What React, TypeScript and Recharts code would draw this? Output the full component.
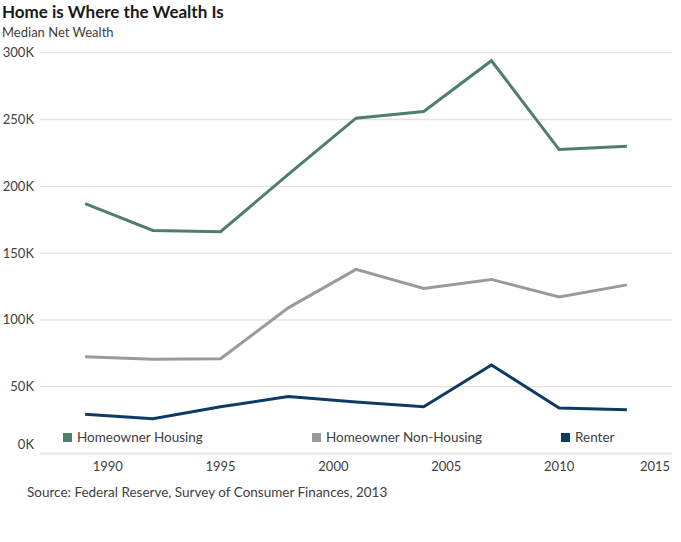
import { LineChart, Line, XAxis, YAxis, CartesianGrid, Legend } from 'recharts'

const years = [1989, 1992, 1995, 1998, 2001, 2004, 2007, 2010, 2013]
const homeownerHousing = [187, 167, 166, 209, 251, 256, 294, 227.5, 230]
const homeownerNonHousing = [72.5, 70.5, 71, 109, 137.8, 123.6, 130.3, 117.2, 126.2]
const renter = [29.4, 26, 35, 42.6, 38.6, 35, 66.3, 34, 32.7]

const xTicks = [1990, 1995, 2000, 2005, 2010, 2015]
const yTicks = [0, 50, 100, 150, 200, 250, 300]

const series = [
  { key: 'housing', name: 'Homeowner Housing', color: '#4f7f6b' },
  { key: 'nonHousing', name: 'Homeowner Non-Housing', color: '#9a9a9a' },
  { key: 'renter', name: 'Renter', color: '#0e3a66' },
]

const data = years.map((year, i) => ({
  year,
  housing: homeownerHousing[i],
  nonHousing: homeownerNonHousing[i],
  renter: renter[i],
}))

const FONT = 'Lato, "Noto Sans", sans-serif'
const legendX = [63, 312, 561]

const YTick = (props: any) => {
  const { y, payload } = props
  const shift = payload.value === 0 ? -9 : 0
  return (
    <text x={34} y={y + shift} dy={4.5} textAnchor="end" fontSize={13} fill="#404040" fontFamily={FONT}>
      {payload.value}K
    </text>
  )
}

const XTick = (props: any) => {
  const { x, y, payload } = props
  const shift = payload.value === 2015 ? -17 : 0
  return (
    <text x={x + shift} y={y} dy={9} textAnchor="middle" fontSize={13} fill="#404040" fontFamily={FONT}>
      {payload.value}
    </text>
  )
}

const renderLegend = () => (
  <div style={{ position: 'relative', height: 20, fontFamily: FONT, fontSize: 13.5, color: '#404040' }}>
    {series.map((s, i) => (
      <div key={s.key} style={{ position: 'absolute', left: legendX[i], top: 0, display: 'flex', alignItems: 'center' }}>
        <span style={{ display: 'inline-block', width: 9, height: 9, background: s.color, marginRight: 5 }} />
        <span>{s.name}</span>
      </div>
    ))}
  </div>
)

export default function App() {
  return (
    <div style={{ position: 'absolute', left: 0, top: 0, width: 681, height: 542, background: '#fff', fontFamily: FONT }}>
      <div style={{ position: 'absolute', left: 2, top: 1, fontSize: 17, fontWeight: 700, color: '#1a1a1a' }}>
        Home is Where the Wealth Is
      </div>
      <div style={{ position: 'absolute', left: 2, top: 24, fontSize: 13, color: '#404040' }}>
        Median Net Wealth
      </div>
      <LineChart width={681} height={542} data={data} margin={{ top: 52.7, right: 9, bottom: 58.5, left: 0 }}>
        <CartesianGrid vertical={false} stroke="#e2e2e2" strokeWidth={1.3} />
        <XAxis
          dataKey="year"
          type="number"
          domain={[1987, 2015]}
          ticks={xTicks}
          height={30}
          axisLine={{ stroke: '#e2e2e2', strokeWidth: 1.3 }}
          tickLine={false}
          tick={<XTick />}
          interval={0}
        />
        <YAxis
          domain={[0, 300]}
          ticks={yTicks}
          width={40}
          axisLine={false}
          tickLine={false}
          tick={<YTick />}
          interval={0}
        />
        <Legend
          layout="horizontal"
          verticalAlign="middle"
          align="center"
          content={renderLegend}
          wrapperStyle={{ position: 'absolute', top: 429, left: 0, width: 681 }}
        />
        {series.map((s) => (
          <Line
            key={s.key}
            dataKey={s.key}
            name={s.name}
            stroke={s.color}
            strokeWidth={3}
            dot={false}
            type="linear"
            isAnimationActive={false}
          />
        ))}
      </LineChart>
      <div style={{ position: 'absolute', left: 27, top: 484, fontSize: 13.5, color: '#404040' }}>
        Source: Federal Reserve, Survey of Consumer Finances, 2013
      </div>
    </div>
  )
}
